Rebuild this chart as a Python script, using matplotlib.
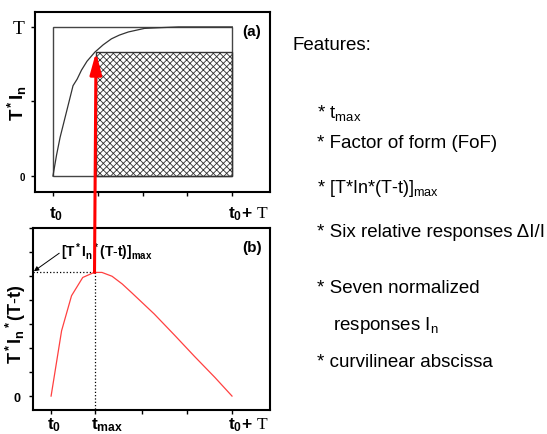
import matplotlib
matplotlib.use("Agg")
import matplotlib.pyplot as plt
import matplotlib.transforms as mtransforms
from matplotlib.patches import Rectangle, ConnectionPatch

plt.rcParams["font.family"] = ["Liberation Sans", "DejaVu Sans"]
plt.rcParams["mathtext.fontset"] = "custom"
plt.rcParams["mathtext.rm"] = "Liberation Sans"
plt.rcParams["mathtext.bf"] = "Liberation Sans:bold"
plt.rcParams["mathtext.it"] = "Liberation Sans:italic"
plt.rcParams["mathtext.sf"] = "Liberation Serif"
plt.rcParams["hatch.linewidth"] = 0.6

# panel (a): normalized response T*In versus time (t0 = 0, t0+T = 1)
resp_t = [0, 0.02, 0.04, 0.065, 0.09, 0.112, 0.135, 0.159, 0.19, 0.233,
          0.28, 0.326, 0.37, 0.42, 0.51, 0.6, 0.7, 0.8, 0.9, 1.0]
resp_y = [0, 0.14, 0.26, 0.38, 0.50, 0.606, 0.65, 0.71, 0.77, 0.83,
          0.88, 0.92, 0.945, 0.966, 0.99, 0.995, 1.0, 1.0, 1.0, 1.0]

# panel (b): T*In*(T-t) versus time
prod_t = [0, 0.058, 0.113, 0.175, 0.238, 0.281, 0.337, 0.393, 0.449,
          0.57, 0.682, 0.793, 0.905, 1.0]
prod_y = [0, 2.72, 4.18, 4.94, 5.15, 5.15, 4.99, 4.67, 4.28,
          3.42, 2.54, 1.65, 0.78, 0]

t_max = 0.24
resp_at_tmax = 0.83
prod_max = 5.15

x_ticks = [0, 0.25, 0.5, 0.75, 1.0]
xa_labels = [r"$\mathbf{t_0{+}}\ \mathsf{T}$"]
xa_labels = [r"$\mathbf{t_0}$", "", "", "", xa_labels[0]]
xb_ticks = [0, t_max, 0.5, 0.75, 1.0]
xb_labels = [r"$\mathbf{t_0}$", r"$\mathbf{t_{max}}$", "", "",
             r"$\mathbf{t_0{+}}\ \mathsf{T}$"]

features = [
    r"* $\mathrm{t_{max}}$",
    "* Factor of form (FoF)",
    r"* [T*In*$\mathrm{(T}$-$\mathrm{t)]_{max}}$",
    "* Six relative responses \u0394I/I",
    "* Seven normalized",
    r"responses $\mathrm{I_n}$",
    "* curvilinear abscissa",
]

W, H = 547, 435
fig = plt.figure(figsize=(W / 100, H / 100), dpi=100)


def box(l, t, r, b):
    return [l / W, 1 - b / H, (r - l) / W, (b - t) / H]


ax_a = fig.add_axes(box(35, 13, 270, 193))
ax_b = fig.add_axes(box(33, 229, 270, 411))

shift = mtransforms.ScaledTranslation(-0.04, 0, fig.dpi_scale_trans)
for ax in (ax_a, ax_b):
    for s in ax.spines.values():
        s.set_linewidth(1.5)
    ax.tick_params(direction="out", length=3, width=1, labelsize=12.5)
    ax.set_xlim(-0.1, 1.21)

# ---- panel (a)
ax_a.set_ylim(-0.107, 1.10)
ax_a.plot(resp_t, resp_y, color="#333333", lw=0.9)
ax_a.add_patch(Rectangle((0, 0), 1, 1, fill=False, edgecolor="#444444", lw=1))
ax_a.add_patch(Rectangle((t_max, 0), 1 - t_max, resp_at_tmax, fill=False,
                         hatch="xxxxx", edgecolor="#333333", lw=1))
ax_a.set_xticks(x_ticks)
ax_a.set_xticklabels(xa_labels)
ax_a.tick_params(axis="x", pad=6)
ax_a.set_yticks([0, 0.5, 1])
ax_a.set_yticklabels(["0", "", r"$\mathsf{T}$"])
ylab = ax_a.get_yticklabels()
ylab[0].set_fontsize(7)
ylab[0].set_fontweight("bold")
ylab[2].set_fontsize(14)
ax_a.tick_params(axis="y", pad=4)
ax_a.text(1.11, 0.97, "(a)", fontsize=11, fontweight="bold",
          ha="center", va="center")
ax_a.set_ylabel(r"$\mathbf{T^*I_n}$", fontsize=13.5)
ax_a.yaxis.set_label_coords(-0.025, 0.5)

# ---- panel (b)
ax_b.set_ylim(-0.58, 7.0)
ax_b.plot(prod_t, prod_y, color="#ff4040", lw=0.9)
ax_b.plot([-0.1, t_max], [prod_max, prod_max], color="black", ls=":", lw=0.9)
ax_b.plot([t_max, t_max], [prod_max, -0.58], color="black", ls=":", lw=0.9)
ax_b.set_xticks(xb_ticks)
ax_b.set_xticklabels(xb_labels)
ax_b.tick_params(axis="x", pad=1)
ax_b.set_yticks(range(8))
ax_b.set_yticklabels(["0"] + [""] * 7)
ax_b.get_yticklabels()[0].set_fontsize(9)
ax_b.get_yticklabels()[0].set_fontweight("bold")
ax_b.tick_params(axis="y", pad=6)
ax_b.text(1.11, 6.2, "(b)", fontsize=11, fontweight="bold",
          ha="center", va="center")
ax_b.text(0.055, 5.85, r"$\mathbf{[T^*I_n{}^*(T}$-$\mathbf{t)]_{max}}$",
          fontsize=10, va="baseline")
ax_b.annotate("", xy=(-0.095, prod_max + 0.05), xytext=(0.045, 5.95),
              arrowprops=dict(arrowstyle="-|>", color="black", lw=0.7,
                              mutation_scale=7, shrinkA=0, shrinkB=0),
              annotation_clip=False)
ax_b.set_ylabel(r"$\mathbf{T^*I_n{}^*(T}$-$\mathbf{t)}$", fontsize=13)
ax_b.yaxis.set_label_coords(-0.02, 0.48)

# tick labels start at the tick, as in the source figure
for ax in (ax_a, ax_b):
    for lab in ax.get_xticklabels():
        lab.set_ha("left")
        lab.set_transform(lab.get_transform() + shift)

# red arrow linking the two panels
con = ConnectionPatch(xyA=(t_max, prod_max), coordsA=ax_b.transData,
                      xyB=(t_max, resp_at_tmax), coordsB=ax_a.transData,
                      arrowstyle="-|>,head_length=1.3,head_width=0.35",
                      mutation_scale=10, color="#ff0000", lw=2.2)
fig.add_artist(con)

# ---- feature list
fig.text(293 / W, 1 - 50 / H, "Features:", fontsize=13.5)
feat_pos = [(317, 118), (317, 148), (317, 193), (317, 237),
            (317, 293), (333, 330), (317, 367)]
for (px, py), txt in zip(feat_pos, features):
    size = 13 if "[T" in txt else 13.5
    fig.text(px / W, 1 - py / H, txt, fontsize=size, va="baseline")

fig.savefig("out.png", dpi=100)
